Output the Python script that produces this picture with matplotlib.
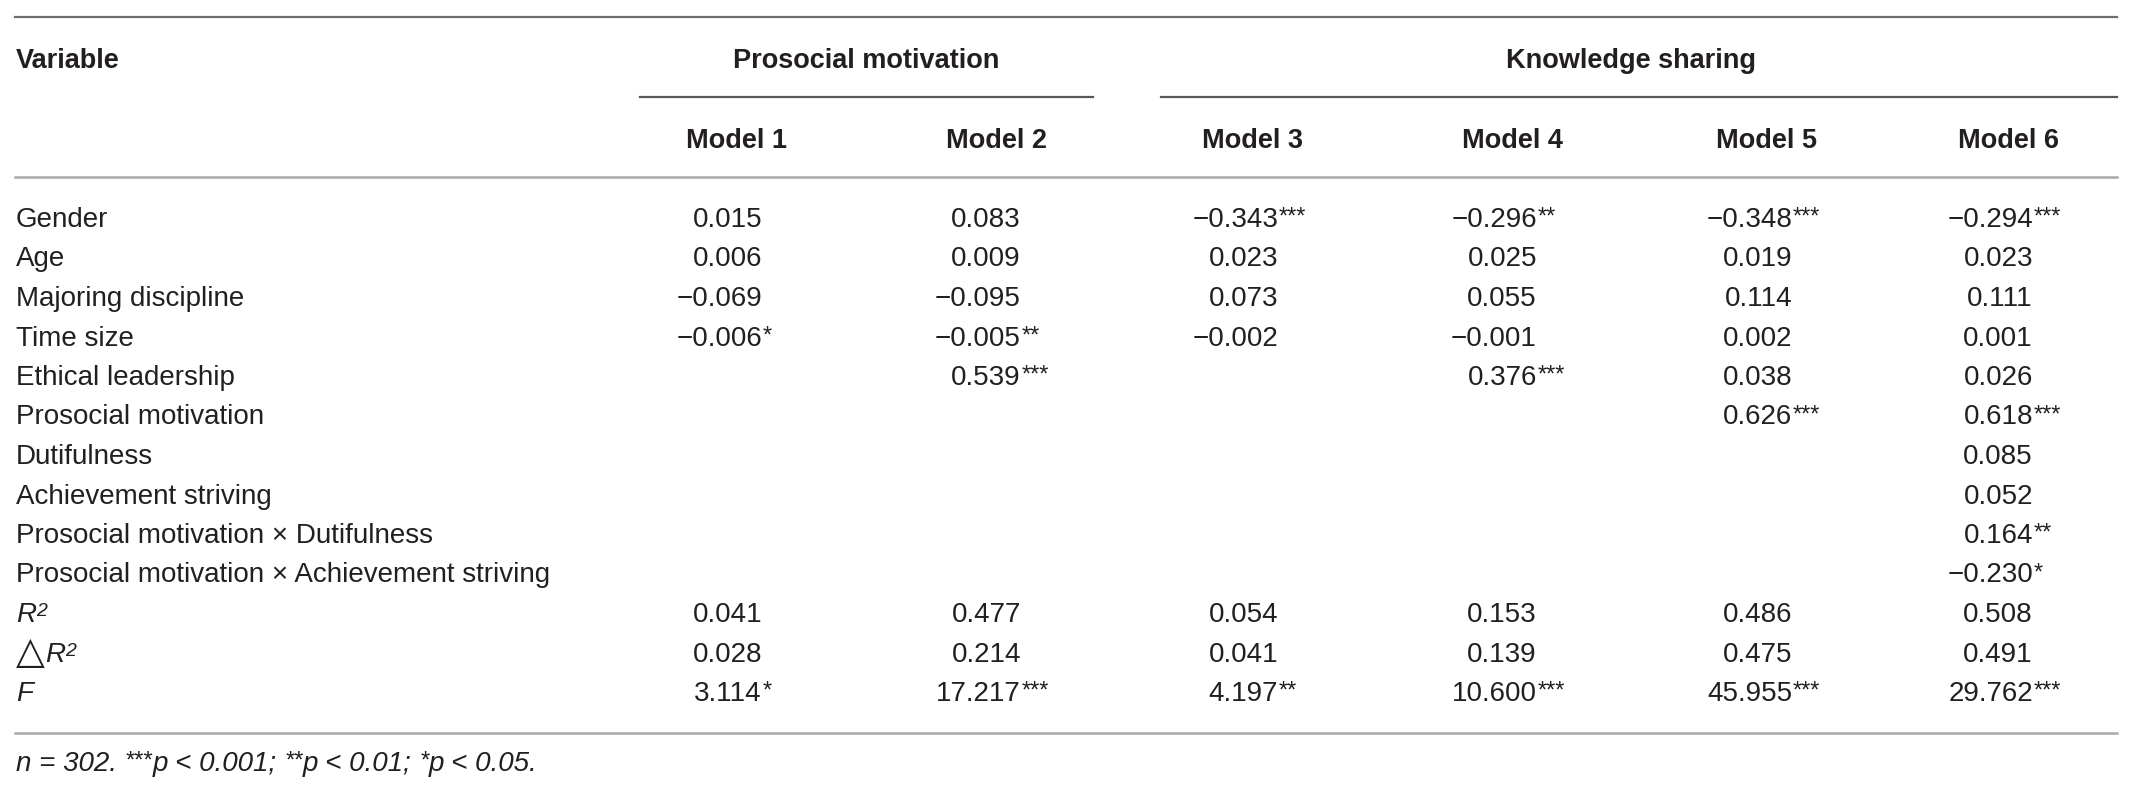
import matplotlib
matplotlib.use("Agg")
import matplotlib.pyplot as plt

variables = [
    "Gender",
    "Age",
    "Majoring discipline",
    "Time size",
    "Ethical leadership",
    "Prosocial motivation",
    "Dutifulness",
    "Achievement striving",
    "Prosocial motivation \u00d7 Dutifulness",
    "Prosocial motivation \u00d7 Achievement striving",
    "R2",
    "dR2",
    "F",
]

model_names = ["Model 1", "Model 2", "Model 3", "Model 4", "Model 5", "Model 6"]
group_names = ["Prosocial motivation", "Knowledge sharing"]

# None = empty cell
model1 = [0.015, 0.006, -0.069, -0.006, None, None, None, None, None, None, 0.041, 0.028, 3.114]
model2 = [0.083, 0.009, -0.095, -0.005, 0.539, None, None, None, None, None, 0.477, 0.214, 17.217]
model3 = [-0.343, 0.023, 0.073, -0.002, None, None, None, None, None, None, 0.054, 0.041, 4.197]
model4 = [-0.296, 0.025, 0.055, -0.001, 0.376, None, None, None, None, None, 0.153, 0.139, 10.600]
model5 = [-0.348, 0.019, 0.114, 0.002, 0.038, 0.626, None, None, None, None, 0.486, 0.475, 45.955]
model6 = [-0.294, 0.023, 0.111, 0.001, 0.026, 0.618, 0.085, 0.052, 0.164, -0.230, 0.508, 0.491, 29.762]

stars1 = ["", "", "", "*", "", "", "", "", "", "", "", "", "*"]
stars2 = ["", "", "", "**", "***", "", "", "", "", "", "", "", "***"]
stars3 = ["***", "", "", "", "", "", "", "", "", "", "", "", "**"]
stars4 = ["**", "", "", "", "***", "", "", "", "", "", "", "", "***"]
stars5 = ["***", "", "", "", "", "***", "", "", "", "", "", "", "***"]
stars6 = ["***", "", "", "", "", "***", "", "", "**", "*", "", "", "***"]

models = [model1, model2, model3, model4, model5, model6]
stars = [stars1, stars2, stars3, stars4, stars5, stars6]

W, H = 2135, 793
TXT = "#231f20"
FAM = ["Liberation Sans", "DejaVu Sans"]
FS = 20
STAR = 17
SUP = 14

fig = plt.figure(figsize=(W / 100, H / 100), dpi=100)
ax = fig.add_axes([0, 0, 1, 1])
ax.set_xlim(0, W)
ax.set_ylim(H, 0)
ax.axis("off")
renderer = fig.canvas.get_renderer()


def put(x, y, s, **kw):
    kw.setdefault("fontsize", FS)
    kw.setdefault("color", TXT)
    kw.setdefault("family", FAM)
    return ax.text(x, y, s, va="baseline", **kw)


def width(t):
    return t.get_window_extent(renderer).width


def rich(x, y, pieces, style="normal"):
    # pieces: (text, kind) with kind "" / "sup" / "star"
    for s, kind in pieces:
        if kind == "sup":
            t = put(x, y - 6, s, fontsize=SUP, style=style)
        elif kind == "star":
            t = put(x, y - 3, s, fontsize=STAR, style=style)
        else:
            t = put(x, y, s, style=style)
        x += width(t)


# rules
left, right = 15, 2117
ax.plot([left, right], [17, 17], color="#6d6e71", lw=1.6)
ax.plot([left, right], [177, 177], color="#a7a9ac", lw=1.8)
ax.plot([left, right], [733, 733], color="#a7a9ac", lw=1.8)

num_right = [762, 1021, 1278, 1537, 1792, 2033]
head_x = [r - 25 for r in num_right]

# group headers and their rules
groups = [(0, 1), (2, 5)]
rule_spans = [(640, 1093), (1161, 2117)]
for name, (a, b), (r0, r1) in zip(group_names, groups, rule_spans):
    put((head_x[a] + head_x[b]) / 2, 68, name, ha="center", weight="bold", fontsize=19.5)
    ax.plot([r0, r1], [97, 97], color="#58595b", lw=1.6)

put(left + 1, 68, "Variable", weight="bold", fontsize=19.5)
for name, x in zip(model_names, head_x):
    put(x, 148, name, ha="center", weight="bold", fontsize=19.5)

# body rows
row0, step = 227, 39.5
for i, var in enumerate(variables):
    y = row0 + i * step
    if var == "R2":
        rich(left + 1, y, [("R", ""), ("2", "sup")], style="italic")
    elif var == "dR2":
        t = put(left + 1, y + 1, "\u25b3", fontsize=27)
        rich(left + 1 + width(t), y, [("R", ""), ("2", "sup")], style="italic")
    elif var == "F":
        put(left + 1, y, "F", style="italic")
    else:
        put(left + 1, y, var)
    for vals, st, xr in zip(models, stars, num_right):
        v = vals[i]
        if v is None:
            continue
        put(xr, y, f"{v:.3f}".replace("-", "\u2212"), ha="right")
        if st[i]:
            put(xr + 1, y - 3, st[i], fontsize=STAR)

rich(left + 1, 771, [
    ("n = 302. ", ""), ("***", "star"), ("p < 0.001; ", ""),
    ("**", "star"), ("p < 0.01; ", ""), ("*", "star"), ("p < 0.05.", ""),
], style="italic")

fig.savefig("out.png", dpi=100)
